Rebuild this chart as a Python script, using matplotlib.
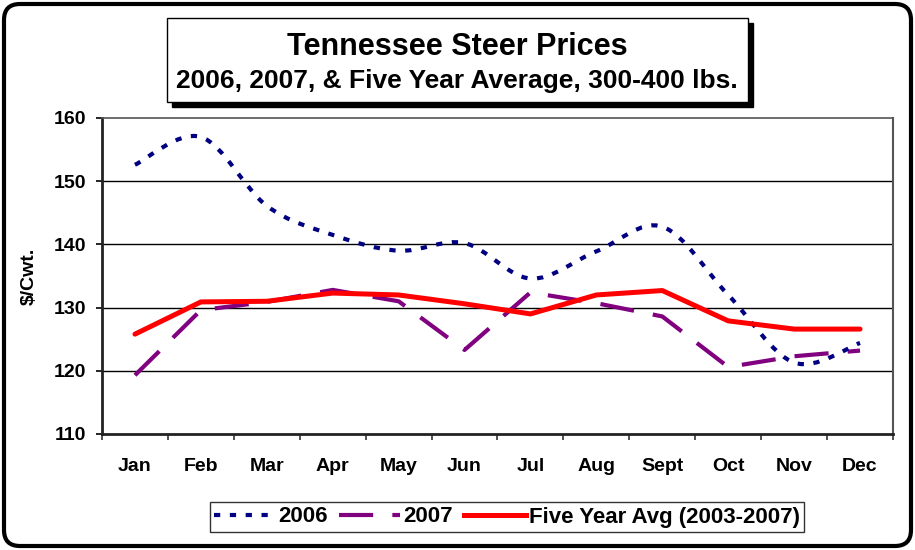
import matplotlib
matplotlib.use("Agg")
import matplotlib.pyplot as plt
import numpy as np
from matplotlib.path import Path
from matplotlib.patches import PathPatch, Rectangle, FancyBboxPatch
from matplotlib.lines import Line2D

plt.rcParams['font.family'] = ['Liberation Sans', 'DejaVu Sans']
plt.rcParams['font.weight'] = 'bold'

months = ["Jan", "Feb", "Mar", "Apr", "May", "Jun", "Jul", "Aug", "Sept", "Oct", "Nov", "Dec"]
prices_2006 = [152.6, 157.0, 146.1, 141.5, 139.0, 140.2, 134.6, 138.9, 142.8, 132.0, 121.3, 124.4]
prices_2007 = [119.3, 129.6, 130.9, 132.8, 131.0, 123.3, 132.4, 130.7, 128.6, 120.6, 122.3, 123.2]
avg_5yr = [125.8, 130.9, 131.0, 132.3, 132.0, 130.6, 129.0, 132.0, 132.7, 127.9, 126.6, 126.6]
yticks = [110, 120, 130, 140, 150, 160]
legend_labels = ["2006", "2007", "Five Year Avg (2003-2007)"]

W, H = 915, 550
fig = plt.figure(figsize=(W / 100, H / 100), dpi=100)
fig.patch.set_facecolor('white')

ax = fig.add_axes([102 / W, 1 - 434 / H, (893 - 102) / W, (434 - 118) / H])
x = np.arange(len(months))


def smooth_path(xs, ys):
    pts = np.column_stack([xs, ys]).astype(float)
    n = len(pts)
    verts = [pts[0]]
    codes = [Path.MOVETO]
    for i in range(n - 1):
        p0 = pts[i - 1] if i > 0 else pts[i]
        p1 = pts[i]
        p2 = pts[i + 1]
        p3 = pts[i + 2] if i + 2 < n else pts[i + 1]
        c1 = p1 + (p2 - p0) / 6.0
        c2 = p2 - (p3 - p1) / 6.0
        verts += [c1, c2, p2]
        codes += [Path.CURVE4] * 3
    return Path(verts, codes)


navy = '#000080'
purple = '#800080'
red = '#FF0000'
dot_style = (0, (1.5, 2.3))
dash_style = (0, (8.2, 4.6))

patch06 = PathPatch(smooth_path(x, prices_2006), fill=False, edgecolor=navy,
                    lw=3.0, linestyle=dot_style, zorder=4, capstyle='butt')
ax.add_patch(patch06)
ax.plot(x, prices_2007, color=purple, lw=3.0, linestyle=dash_style, zorder=3)
ax.plot(x, avg_5yr, color=red, lw=3.6, solid_capstyle='round', zorder=5)

ax.set_xlim(-0.5, len(months) - 0.5)
ax.set_ylim(110, 160)
ax.set_yticks(yticks)
ax.set_yticklabels([str(v) for v in yticks], fontsize=14, fontweight='bold')
ax.set_xticks(x)
ax.set_xticklabels(months, fontsize=14, fontweight='bold')
ax.set_xticks(np.arange(-0.5, len(months), 1.0), minor=True)
ax.tick_params(axis='x', which='major', length=0, pad=17)
ax.tick_params(axis='x', which='minor', length=4.3, width=1.2, direction='out', color='#333333')
ax.tick_params(axis='y', which='major', length=4.3, width=1.2, direction='out', pad=7)

for v in yticks[1:-1]:
    ax.axhline(v, color='black', lw=1.0, zorder=1)

ax.spines['left'].set_linewidth(2.0)
ax.spines['left'].set_color('#222222')
ax.spines['bottom'].set_linewidth(2.0)
ax.spines['bottom'].set_color('#222222')
ax.spines['top'].set_color('#555555')
ax.spines['top'].set_linewidth(1.2)
ax.spines['right'].set_color('#555555')
ax.spines['right'].set_linewidth(1.5)

fig.text(29 / W, 1 - 276 / H, "$/Cwt.", rotation=90, ha='center', va='center',
         fontsize=14, fontweight='bold')

# Title box with shadow
bx0, bx1, by0, by1 = 167, 748, 18, 102
shadow = Rectangle(((bx0 + 5) / W, 1 - (by1 + 5) / H), (bx1 - bx0) / W, (by1 - by0) / H,
                   transform=fig.transFigure, facecolor='black', edgecolor='black', zorder=1)
box = Rectangle((bx0 / W, 1 - by1 / H), (bx1 - bx0) / W, (by1 - by0) / H,
                transform=fig.transFigure, facecolor='white', edgecolor='black', lw=1.0, zorder=2)
fig.patches.extend([shadow, box])
fig.text(457 / W, 1 - 55 / H, "Tennessee Steer Prices", ha='center', va='baseline',
         fontsize=22, fontweight='bold', zorder=3)
fig.text(457 / W, 1 - 88 / H, "2006, 2007, & Five Year Average, 300-400 lbs.", ha='center',
         va='baseline', fontsize=19, fontweight='bold', zorder=3)

# Legend
handles = [
    Line2D([], [], color=navy, lw=3.0, linestyle=dot_style),
    Line2D([], [], color=purple, lw=3.0, linestyle=dash_style),
    Line2D([], [], color=red, lw=3.6),
]
leg = fig.legend(handles, legend_labels, loc='center', bbox_to_anchor=(507 / W, 1 - 517 / H),
                 ncol=3, frameon=True, fancybox=False, shadow=False, handlelength=2.75,
                 handletextpad=0.15, columnspacing=0.5, borderpad=0.2, borderaxespad=0,
                 prop={'weight': 'bold', 'size': 16})
leg.get_frame().set_edgecolor('black')
leg.get_frame().set_linewidth(1.0)

# Outer rounded border
border = FancyBboxPatch((0.04, 0.04), W / 100 - 0.08, H / 100 - 0.08,
                        boxstyle="round,pad=0,rounding_size=0.16",
                        transform=fig.dpi_scale_trans, facecolor='none', edgecolor='black',
                        lw=3.0, zorder=10)
fig.patches.append(border)

fig.savefig("out.png", dpi=100, facecolor='white')
